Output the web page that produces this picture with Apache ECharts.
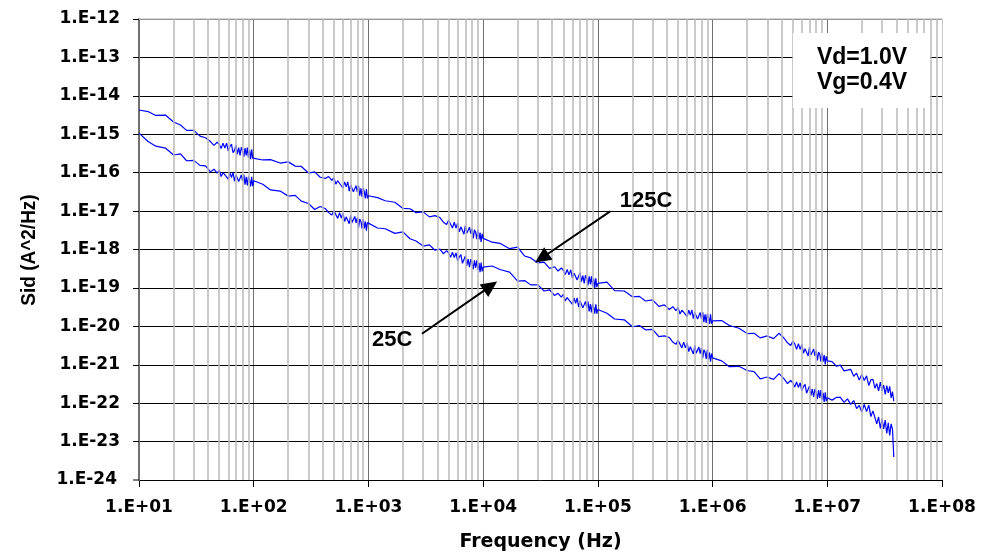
<!DOCTYPE html>
<html>
<head>
<meta charset="utf-8">
<script src="https://cdn.jsdelivr.net/npm/echarts@6/dist/echarts.min.js"></script>
<style>
html,body{margin:0;padding:0;background:#fff;}
#c{width:996px;height:552px;}
</style>
</head>
<body>
<div id="c"></div>
<script>
// ---- frequency grid (Hz): mantissas within each decade ----
const mantissas = [1.0,1.2,1.4,1.7,2.0,2.3,2.6,3.0,3.4,3.8,4.2,4.5,4.8,5.0,5.2,5.4,5.6,5.8,6.0,6.2,6.4,6.6,6.8,7.0,7.2,7.4,7.6,7.8,8.0,8.2,8.4,8.6,8.8,9.0,9.2,9.4,9.6,9.8];
const fullDecades = [1e1,1e2,1e3,1e4,1e5,1e6];
const lastDecade = 1e7;
const lastDecadeMantissas = [1.0,1.1,1.2,1.3,1.4,1.5,1.6,1.7,1.8,1.9,2.0,2.1,2.2,2.3,2.4,2.5,2.6,2.7,2.8,2.9,3.0,3.1,3.2,3.3,3.4,3.5,3.6,3.7,3.8];

// ---- Sid (A^2/Hz), 125C (one row per decade) ----
const sid125 = [
  4.27e-15,3.89e-15,3.09e-15,3.16e-15,2.09e-15,1.74e-15,1.26e-15,1.26e-15,8.91e-16,8.13e-16,6.46e-16,5.13e-16,6.17e-16,5.50e-16,4.27e-16,5.89e-16,4.37e-16,5.89e-16,3.63e-16,4.79e-16,5.50e-16,3.31e-16,3.80e-16,5.25e-16,3.02e-16,4.47e-16,2.82e-16,4.57e-16,3.72e-16,2.57e-16,4.37e-16,2.82e-16,4.47e-16,2.45e-16,3.89e-16,2.24e-16,4.07e-16,2.40e-16,
  2.51e-16,2.14e-16,2.19e-16,1.78e-16,1.91e-16,1.48e-16,1.45e-16,9.77e-17,1.05e-16,7.59e-17,7.08e-17,7.94e-17,6.31e-17,7.41e-17,5.01e-17,6.17e-17,6.76e-17,4.57e-17,3.98e-17,5.75e-17,4.27e-17,5.75e-17,3.31e-17,4.79e-17,5.25e-17,3.16e-17,2.82e-17,4.57e-17,3.16e-17,4.57e-17,2.51e-17,3.89e-17,2.34e-17,3.98e-17,3.16e-17,2.14e-17,3.72e-17,2.14e-17,
  2.51e-17,2.24e-17,1.86e-17,1.70e-17,1.17e-17,1.15e-17,9.12e-18,9.55e-18,7.08e-18,7.59e-18,6.76e-18,5.13e-18,4.47e-18,5.75e-18,5.13e-18,3.63e-18,5.13e-18,3.63e-18,4.90e-18,2.88e-18,3.89e-18,4.27e-18,2.51e-18,4.17e-18,2.63e-18,2.40e-18,3.80e-18,2.57e-18,3.55e-18,1.95e-18,3.24e-18,2.82e-18,1.86e-18,3.24e-18,1.82e-18,2.75e-18,1.58e-18,2.57e-18,
  1.95e-18,1.55e-18,1.45e-18,1.05e-18,1.15e-18,6.76e-19,6.03e-19,4.47e-19,4.68e-19,3.24e-19,3.55e-19,2.75e-19,3.31e-19,2.88e-19,2.24e-19,3.02e-19,2.19e-19,2.95e-19,1.82e-19,2.40e-19,2.69e-19,1.62e-19,1.82e-19,2.51e-19,1.45e-19,2.09e-19,1.32e-19,2.14e-19,1.74e-19,1.17e-19,2.00e-19,1.26e-19,2.00e-19,1.10e-19,1.74e-19,1.00e-19,1.78e-19,1.05e-19,
  1.32e-19,1.41e-19,8.51e-20,8.32e-20,5.89e-20,6.03e-20,4.57e-20,4.90e-20,3.31e-20,3.63e-20,2.75e-20,3.24e-20,2.57e-20,3.09e-20,2.09e-20,2.63e-20,2.95e-20,2.04e-20,1.78e-20,2.63e-20,1.95e-20,2.69e-20,1.58e-20,2.29e-20,2.57e-20,1.55e-20,1.41e-20,2.29e-20,1.58e-20,2.34e-20,1.29e-20,2.04e-20,1.23e-20,2.09e-20,1.70e-20,1.15e-20,2.04e-20,1.17e-20,
  1.38e-20,1.41e-20,1.05e-20,8.91e-21,6.46e-21,6.61e-21,5.01e-21,5.62e-21,4.79e-21,6.61e-21,4.90e-21,3.72e-21,3.16e-21,4.07e-21,3.55e-21,2.51e-21,3.55e-21,2.51e-21,3.39e-21,2.00e-21,2.63e-21,2.88e-21,1.70e-21,2.82e-21,1.78e-21,1.62e-21,2.57e-21,1.70e-21,2.34e-21,1.29e-21,2.14e-21,1.86e-21,1.20e-21,2.09e-21,1.20e-21,1.78e-21,1.02e-21,1.66e-21,
  1.26e-21,1.20e-21,9.12e-22,9.77e-22,6.92e-22,7.24e-22,7.59e-22,5.01e-22,6.03e-22,3.98e-22,5.62e-22,3.89e-22,5.13e-22,2.88e-22,4.07e-22,4.17e-22,2.45e-22,3.24e-22,2.09e-22,3.55e-22,2.09e-22,2.95e-22,1.70e-22,2.88e-22,1.86e-22,2.75e-22,1.38e-22,2.00e-22,1.12e-22
];

// ---- Sid (A^2/Hz), 25C (one row per decade) ----
const sid25 = [
  1.07e-15,6.46e-16,4.90e-16,4.37e-16,2.88e-16,3.09e-16,2.04e-16,2.09e-16,1.55e-16,1.51e-16,1.05e-16,1.23e-16,9.77e-17,1.17e-16,7.94e-17,1.00e-16,1.12e-16,7.76e-17,6.76e-17,1.00e-16,7.41e-17,1.02e-16,6.03e-17,8.71e-17,9.77e-17,5.89e-17,5.37e-17,8.71e-17,6.03e-17,8.91e-17,4.90e-17,7.76e-17,4.68e-17,7.94e-17,6.46e-17,4.37e-17,7.76e-17,4.47e-17,
  6.17e-17,5.01e-17,3.55e-17,3.31e-17,2.45e-17,2.57e-17,1.82e-17,1.58e-17,1.10e-17,1.32e-17,1.17e-17,9.12e-18,7.94e-18,1.02e-17,9.12e-18,6.46e-18,9.12e-18,6.61e-18,8.91e-18,5.37e-18,7.08e-18,7.94e-18,4.68e-18,7.76e-18,5.01e-18,4.47e-18,7.24e-18,4.90e-18,6.76e-18,3.72e-18,6.17e-18,5.37e-18,3.55e-18,6.17e-18,3.55e-18,5.37e-18,3.09e-18,5.01e-18,
  4.47e-18,3.63e-18,3.47e-18,2.63e-18,2.88e-18,1.91e-18,1.66e-18,1.23e-18,1.32e-18,9.55e-19,1.02e-18,7.76e-19,9.33e-19,8.13e-19,6.31e-19,8.51e-19,6.17e-19,8.13e-19,5.01e-19,6.46e-19,7.41e-19,4.37e-19,4.90e-19,6.76e-19,3.80e-19,5.62e-19,3.47e-19,5.62e-19,4.57e-19,3.09e-19,5.25e-19,3.31e-19,5.25e-19,2.88e-19,4.47e-19,2.57e-19,4.57e-19,2.69e-19,
  3.47e-19,3.72e-19,3.02e-19,2.57e-19,1.51e-19,1.55e-19,1.20e-19,1.20e-19,8.32e-20,8.91e-20,6.31e-20,7.24e-20,5.75e-20,6.76e-20,4.57e-20,5.62e-20,6.17e-20,4.27e-20,3.72e-20,5.50e-20,3.98e-20,5.50e-20,3.16e-20,4.57e-20,5.13e-20,3.02e-20,2.75e-20,4.47e-20,3.09e-20,4.47e-20,2.45e-20,3.80e-20,2.29e-20,3.89e-20,3.16e-20,2.14e-20,3.72e-20,2.14e-20,
  2.75e-20,2.19e-20,1.55e-20,1.48e-20,9.77e-21,1.05e-20,8.13e-21,8.32e-21,5.37e-21,5.62e-21,5.13e-21,3.89e-21,3.39e-21,4.37e-21,3.89e-21,2.75e-21,3.89e-21,2.75e-21,3.72e-21,2.19e-21,2.95e-21,3.24e-21,1.91e-21,3.16e-21,2.00e-21,1.82e-21,2.88e-21,1.95e-21,2.69e-21,1.48e-21,2.45e-21,2.14e-21,1.41e-21,2.45e-21,1.38e-21,2.09e-21,1.20e-21,1.95e-21,
  1.51e-21,1.26e-21,8.91e-22,9.12e-22,7.08e-22,6.61e-22,4.27e-22,4.79e-22,4.17e-22,5.89e-22,4.27e-22,3.24e-22,3.89e-22,3.39e-22,2.63e-22,3.55e-22,2.57e-22,3.39e-22,2.09e-22,2.69e-22,3.09e-22,1.82e-22,2.04e-22,2.82e-22,1.58e-22,2.34e-22,1.45e-22,2.34e-22,1.91e-22,1.29e-22,2.19e-22,1.38e-22,2.19e-22,1.20e-22,1.86e-22,1.07e-22,1.91e-22,1.12e-22,
  1.38e-22,1.20e-22,1.41e-22,1.41e-22,1.05e-22,1.29e-22,9.33e-23,1.17e-22,7.24e-23,8.71e-23,5.89e-23,9.33e-23,6.03e-23,8.91e-23,4.47e-23,6.31e-23,6.17e-23,2.88e-23,4.37e-23,2.19e-23,3.89e-23,2.14e-23,3.63e-23,1.62e-23,3.09e-23,1.45e-23,2.88e-23,2.14e-23,3.98e-24
];

// ---- axis ticks ----
const xMin = 1e1, xMax = 1e8;
const yMin = 1e-24, yMax = 1e-12;
const minorMantissas = [2,3,4,5,6,7,8,9];
const minorDecades = [1e1,1e2,1e3,1e4,1e5,1e6,1e7];

// ---- annotations (data coordinates) ----
const arrow125 = [[1.28e5, 9.8e-18], [3.24e4, 6.0e-19]];
const arrow25 = [[2.93e3, 6.43e-21], [1.16e4, 1.11e-19]];
const label125 = [2.63e5, 1.79e-17];
const label25 = [1.61e3, 4.48e-21];
const conditions = ['Vd=1.0V', 'Vg=0.4V'];
const yTitle = 'Sid (A^2/Hz)';
const xTitle = 'Frequency (Hz)';

// build the frequency grid
const freq = [];
fullDecades.forEach(d => mantissas.forEach(m => freq.push(parseFloat((m * d).toPrecision(3)))));
lastDecadeMantissas.forEach(m => freq.push(parseFloat((m * lastDecade).toPrecision(3))));
const minorTicks = [];
minorDecades.forEach(d => minorMantissas.forEach(m => minorTicks.push(m * d)));

const expOf = v => Math.round(Math.log10(v));
const pad2 = n => (n < 10 ? '0' : '') + n;
const yLabelText = v => '1.E-' + pad2(-expOf(v));

const labelFont = {fontFamily: 'DejaVu Sans', fontWeight: 'bold', fontSize: 17, color: '#000'};
const annFont = {fontFamily: 'Liberation Sans', fontWeight: 'bold', fontSize: 22, color: '#000'};

const xSplitColors = [];
for (let i = 0; i < 8; i++) xSplitColors.push(i === 7 ? '#c8c8c8' : '#707070');

const arrowMark = pts => ({
  silent: true, animation: false, symbol: ['none', 'triangle'], symbolSize: [15, 16],
  label: {show: false}, lineStyle: {color: '#000', width: 2, type: 'solid'},
  emphasis: {disabled: true},
  data: [[{coord: pts[0]}, {coord: pts[1]}]]
});
const textMark = (txt, pt) => ({
  silent: true, animation: false, symbol: 'circle', symbolSize: 1,
  itemStyle: {color: 'rgba(0,0,0,0)'},
  label: Object.assign({show: true, position: 'inside', formatter: txt}, annFont),
  emphasis: {disabled: true},
  data: [{coord: pt}]
});

const chart = echarts.init(document.getElementById('c'), null, {width: 996, height: 552});
chart.setOption({
  animation: false,
  backgroundColor: '#fff',
  grid: {left: 139, right: 54, top: 19, bottom: 72, containLabel: false, outerBoundsMode: 'none'},
  xAxis: {
    type: 'log', logBase: 10, min: xMin, max: xMax, splitNumber: 7, interval: 1, z: 0,
    axisLine: {show: true, onZero: false, lineStyle: {color: '#000', width: 1}},
    axisTick: {show: true, length: 7, lineStyle: {color: '#000', width: 1}},
    minorTick: {show: false},
    axisLabel: Object.assign({margin: 19, showMinLabel: true, showMaxLabel: true,
      formatter: v => '1.E+' + pad2(expOf(v))}, labelFont),
    splitLine: {show: true, lineStyle: {color: xSplitColors, width: 1}},
    name: xTitle, nameLocation: 'middle', nameGap: 53,
    nameTextStyle: {fontFamily: 'DejaVu Sans', fontWeight: 'bold', fontSize: 19, color: '#000'}
  },
  yAxis: {
    type: 'log', logBase: 10, min: yMin, max: yMax, splitNumber: 12, interval: 1, z: 2,
    axisLine: {show: true, onZero: false, lineStyle: {color: '#707070', width: 2}},
    axisTick: {show: true, length: 6, lineStyle: {color: '#000', width: 1}},
    axisLabel: Object.assign({margin: 19, showMinLabel: true, showMaxLabel: true,
      formatter: yLabelText}, labelFont),
    splitLine: {show: true, lineStyle: {color: '#000', width: 1}}
  },
  series: [
    {
      type: 'line', name: 'minor grid', z: 1, silent: true,
      data: [[xMin, yMin]], showSymbol: false, symbol: 'none',
      lineStyle: {opacity: 0},
      markLine: {
        silent: true, symbol: 'none', animation: false,
        label: {show: false},
        lineStyle: {color: '#b8b8b8', width: 1.5, type: 'solid'},
        emphasis: {disabled: true},
        data: minorTicks.map(v => ({xAxis: v}))
      }
    },
    {
      type: 'line', name: 'frame', z: 3, silent: true, clip: false,
      data: [[xMin, yMax], [xMax, yMax]], showSymbol: false, symbol: 'none',
      lineStyle: {color: '#c8c8c8', width: 1.5},
      markPoint: {
        silent: true, animation: false, symbol: 'rect', symbolSize: [6, 1],
        symbolOffset: [-3, 0], itemStyle: {color: '#000'},
        label: Object.assign({show: true, position: 'left', distance: 16, formatter: p => yLabelText(p.data.coord[1])}, labelFont),
        emphasis: {disabled: true},
        data: [{coord: [xMin, yMin]}]
      }
    },
    {
      type: 'line', name: '125C', z: 4,
      data: freq.map((f, i) => [f, sid125[i]]),
      showSymbol: false, symbol: 'none',
      lineStyle: {color: '#0000ff', width: 1.2}, itemStyle: {color: '#0000ff'},
      markLine: arrowMark(arrow125),
      markPoint: textMark('125C', label125)
    },
    {
      type: 'line', name: '25C', z: 4,
      data: freq.map((f, i) => [f, sid25[i]]),
      showSymbol: false, symbol: 'none',
      lineStyle: {color: '#0000ff', width: 1.2}, itemStyle: {color: '#0000ff'},
      markLine: arrowMark(arrow25),
      markPoint: textMark('25C', label25)
    }
  ],
  graphic: [
    {type: 'rect', z: 10, shape: {x: 793, y: 33, width: 137, height: 75}, style: {fill: '#fff'}},
    {type: 'text', z: 11, style: {text: conditions[0], x: 862, y: 58, align: 'center', verticalAlign: 'middle',
      font: 'bold 23px "Liberation Sans", Arial, sans-serif', fill: '#000'}},
    {type: 'text', z: 11, style: {text: conditions[1], x: 862, y: 83, align: 'center', verticalAlign: 'middle',
      font: 'bold 23px "Liberation Sans", Arial, sans-serif', fill: '#000'}},
    {type: 'text', z: 11, x: 29, y: 250, rotation: Math.PI / 2, scaleY: 1.1,
      style: {text: yTitle, x: 0, y: 0, align: 'center', verticalAlign: 'middle',
      font: 'bold 19px "Liberation Sans", Arial, sans-serif', fill: '#000'}}
  ]
});
</script>
</body>
</html>
